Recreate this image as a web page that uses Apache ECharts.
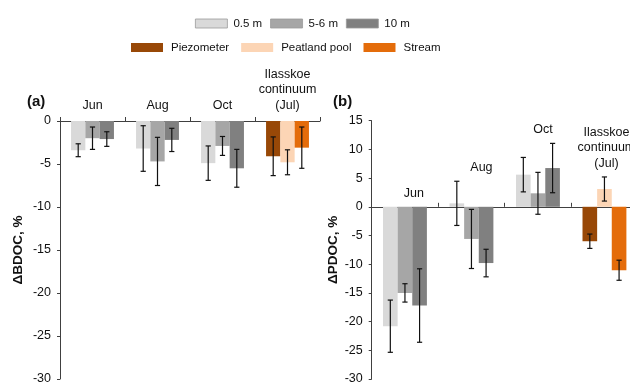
<!DOCTYPE html>
<html><head><meta charset="utf-8">
<script src="https://cdn.jsdelivr.net/npm/echarts@6/dist/echarts.min.js"></script>
<style>html,body{margin:0;padding:0;background:#fff}#c{width:630px;height:383px}</style>
</head><body><div id="c"></div>
<script>
// ---------- data ----------
const categories = ['Jun', 'Aug', 'Oct', 'Ilasskoe\ncontinuum\n(Jul)'];
const depthNames = ['0.5 m', '5-6 m', '10 m'];
const siteNames = ['Piezometer', 'Peatland pool', 'Stream'];
// Panel (a) ΔBDOC, %  (last category: Piezometer / Peatland pool / Stream)
const bdoc05 = [-3.4, -3.2, -4.9, -4.1];
const bdoc56 = [-2.0, -4.7, -2.9, -4.8];
const bdoc10 = [-2.1, -2.2, -5.5, -3.1];
const bdoc05Err = [0.75, 2.65, 2.0, 2.25];
const bdoc56Err = [1.3, 2.8, 1.1, 1.45];
const bdoc10Err = [0.85, 1.35, 2.2, 2.4];
// Panel (b) ΔPDOC, %
const pdoc05 = [-20.8, 0.6, 5.6, -6.0];
const pdoc56 = [-15.0, -5.6, 2.35, 3.1];
const pdoc10 = [-17.2, -9.8, 6.75, -11.05];
const pdoc05Err = [4.55, 3.85, 3.0, 1.25];
const pdoc56Err = [1.6, 5.15, 3.65, 2.1];
const pdoc10Err = [6.4, 2.4, 4.3, 1.75];
// axis ranges
const bdocAxis = [-30, 0, 5];
const pdocAxis = [-30, 15, 5];

// ---------- styles ----------
const depthColors = ['#d9d9d9', '#a6a6a6', '#808080'];
const siteColors = ['#984807', '#fcd5b5', '#e46c0a'];
const labelShiftB = [9, 10, 5, 2];   // horizontal nudge of panel (b) category labels, px
const GAP = 0.34;
const FONT = 'Liberation Sans, Arial, sans-serif';
const axisCol = '#404040';

const chart = echarts.init(document.getElementById('c'), null, {renderer: 'canvas'});

function barSeries(vals, s, gi) {
  return {
    type: 'bar', name: depthNames[s], xAxisIndex: gi, yAxisIndex: gi,
    barGap: '0%', barCategoryGap: (GAP * 100) + '%',
    itemStyle: {color: depthColors[s]},
    data: vals.map((v, i) => i === 3 ? {value: v, itemStyle: {color: siteColors[s]}} : v),
    silent: true, z: 2
  };
}
function errSeries(vals, errs, s, gi) {
  return {
    type: 'custom', xAxisIndex: gi, yAxisIndex: gi, z: 5, silent: true,
    data: vals.map((v, i) => [i, v, errs[i]]),
    renderItem: function (params, api) {
      const x = api.value(0), v = api.value(1), e = api.value(2);
      const band = api.size([1, 0])[0];
      const bw = band * (1 - GAP) / 3;
      const cx = api.coord([x, v])[0] + (s - 1) * bw;
      const top = api.coord([x, v + e])[1], bot = api.coord([x, v - e])[1];
      const cap = 2.6;
      const st = {stroke: '#111', lineWidth: 1.2};
      return {type: 'group', children: [
        {type: 'line', shape: {x1: cx, y1: top, x2: cx, y2: bot}, style: st},
        {type: 'line', shape: {x1: cx - cap, y1: top, x2: cx + cap, y2: top}, style: st},
        {type: 'line', shape: {x1: cx - cap, y1: bot, x2: cx + cap, y2: bot}, style: st}
      ]};
    }
  };
}
function dummy(name, color) {
  return {type: 'scatter', name: name, xAxisIndex: 0, yAxisIndex: 0, data: [],
          itemStyle: {color: color, opacity: 1}};
}

const pVals = [pdoc05, pdoc56, pdoc10], pErrs = [pdoc05Err, pdoc56Err, pdoc10Err];
const labelTops = categories.map((c, i) => {
  let m = 0;
  for (let s = 0; s < 3; s++) m = Math.max(m, pVals[s][i] + pErrs[s][i]);
  return {value: [i, m], label: {offset: [labelShiftB[i], 0]}};
});

const yAxisBase = (rng, name, gap, gi) => ({
  type: 'value', gridIndex: gi, min: rng[0], max: rng[1], interval: rng[2],
  name: name, nameLocation: 'middle', nameGap: gap, nameRotate: 90,
  nameTextStyle: {fontFamily: FONT, fontSize: 13.5, fontWeight: 'bold', color: '#111'},
  axisLine: {show: true, lineStyle: {color: axisCol, width: 1}},
  axisTick: {show: true, length: 3, lineStyle: {color: axisCol}},
  axisLabel: {fontFamily: FONT, fontSize: 12.5, color: '#111', margin: 9},
  splitLine: {show: false}
});

const option = {
  animation: false,
  backgroundColor: '#fff',
  textStyle: {fontFamily: FONT},
  legend: [
    {data: depthNames, left: 195, top: 17.5, padding: 0, itemWidth: 32, itemHeight: 9, itemGap: 8,
     icon: 'rect', itemStyle: {borderColor: '#9a9a9a', borderWidth: 0.8},
     textStyle: {fontFamily: FONT, fontSize: 11.5, color: '#111', padding: [0, 0, 0, 1]}, selectedMode: false},
    {data: siteNames, left: 131, top: 41.5, padding: 0, itemWidth: 32, itemHeight: 9, itemGap: 12,
     icon: 'rect',
     textStyle: {fontFamily: FONT, fontSize: 11.5, color: '#111', padding: [0, 0, 0, 3]}, selectedMode: false}
  ],
  grid: [
    {left: 60, top: 121, right: 310, bottom: 4, outerBoundsMode: 'none', containLabel: false},
    {left: 371.7, top: 120.7, right: -7.7, bottom: 4, outerBoundsMode: 'none', containLabel: false}
  ],
  xAxis: [
    {type: 'category', gridIndex: 0, data: categories, position: 'top',
     axisLine: {show: true, onZero: false, lineStyle: {color: axisCol}},
     axisTick: {show: true, interval: 0, length: 4, lineStyle: {color: axisCol}},
     axisLabel: {interval: 0, fontFamily: FONT, fontSize: 12.5, color: '#111', margin: 8, lineHeight: 15.5}},
    {type: 'category', gridIndex: 1, data: categories, position: 'bottom',
     axisLine: {show: true, onZero: true, lineStyle: {color: axisCol}},
     axisTick: {show: true, inside: true, interval: 0, length: 4, lineStyle: {color: axisCol}},
     axisLabel: {show: false}}
  ],
  yAxis: [
    yAxisBase(bdocAxis, 'ΔBDOC, %', 35, 0),
    yAxisBase(pdocAxis, 'ΔPDOC, %', 27, 1)
  ],
  series: [
    barSeries(bdoc05, 0, 0), barSeries(bdoc56, 1, 0), barSeries(bdoc10, 2, 0),
    barSeries(pdoc05, 0, 1), barSeries(pdoc56, 1, 1), barSeries(pdoc10, 2, 1),
    errSeries(bdoc05, bdoc05Err, 0, 0), errSeries(bdoc56, bdoc56Err, 1, 0), errSeries(bdoc10, bdoc10Err, 2, 0),
    errSeries(pdoc05, pdoc05Err, 0, 1), errSeries(pdoc56, pdoc56Err, 1, 1), errSeries(pdoc10, pdoc10Err, 2, 1),
    dummy(siteNames[0], siteColors[0]), dummy(siteNames[1], siteColors[1]), dummy(siteNames[2], siteColors[2]),
    {type: 'scatter', xAxisIndex: 1, yAxisIndex: 1, symbolSize: 0, silent: true, z: 6,
     itemStyle: {opacity: 1},
     data: labelTops,
     label: {show: true, position: 'top', distance: 6, fontFamily: FONT, fontSize: 12.5, color: '#111', lineHeight: 15.5,
             opacity: 1, formatter: p => categories[p.dataIndex]}}
  ],
  graphic: [
    {type: 'text', left: 27, top: 94.5, style: {text: '(a)', font: 'bold 15px ' + FONT, fill: '#111'}},
    {type: 'text', left: 333, top: 94.5, style: {text: '(b)', font: 'bold 15px ' + FONT, fill: '#111'}}
  ]
};
chart.setOption(option);
</script>
</body></html>
